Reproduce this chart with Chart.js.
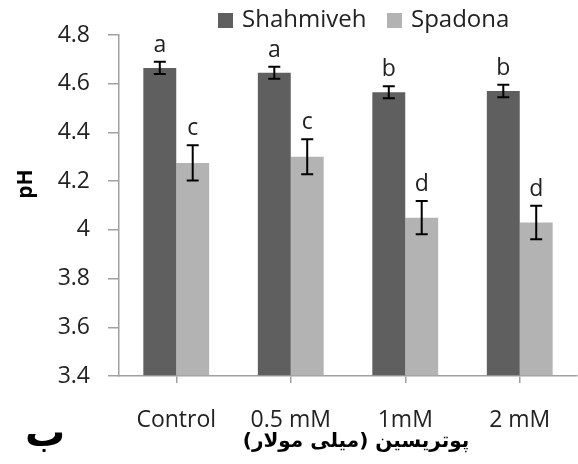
<!DOCTYPE html>
<html>
<head>
<meta charset="utf-8">
<script src="https://cdn.jsdelivr.net/npm/chart.js@4/dist/chart.umd.min.js"></script>
<style>
  html, body { margin: 0; padding: 0; background: #fff; }
  #wrap { width: 578px; height: 464px; }
</style>
</head>
<body>
<div id="wrap"><canvas id="phChart" width="578" height="464"></canvas></div>
<script>
// data
const categories = ["Control", "0.5 mM", "1mM", "2 mM"];
const shahmiveh = [4.665, 4.645, 4.565, 4.57];
const shahmivehErr = [0.025, 0.025, 0.025, 0.026];
const shahmivehLetters = ["a", "a", "b", "b"];
const spadona = [4.275, 4.30, 4.05, 4.03];
const spadonaErr = [0.072, 0.072, 0.068, 0.069];
const spadonaLetters = ["c", "c", "d", "d"];
const yTicks = [3.4, 3.6, 3.8, 4, 4.2, 4.4, 4.6, 4.8];

const DARK = "#5f5f5f";
const LIGHT = "#b3b3b3";
const TEXT = "#222";
const AXIS = "#a0a0a0";
const FONT = "'Open Sans', 'DejaVu Sans', sans-serif";

// error bars + significance letters + legend + side labels
const extras = {
    id: "extras",
    afterDatasetsDraw(chart) {
        const ctx = chart.ctx;
        const y = chart.scales.y;
        const errs = [shahmivehErr, spadonaErr];
        const letters = [shahmivehLetters, spadonaLetters];

        chart.data.datasets.forEach((ds, i) => {
            const meta = chart.getDatasetMeta(i);
            meta.data.forEach((bar, j) => {
                const v = ds.data[j];
                const top = y.getPixelForValue(v + errs[i][j]);
                const bot = y.getPixelForValue(v - errs[i][j]);
                const x = bar.x;
                ctx.save();
                ctx.strokeStyle = "#000";
                ctx.lineWidth = 2;
                ctx.beginPath();
                ctx.moveTo(x, top); ctx.lineTo(x, bot);
                ctx.moveTo(x - 6, top); ctx.lineTo(x + 6, top);
                ctx.moveTo(x - 6, bot); ctx.lineTo(x + 6, bot);
                ctx.stroke();

                ctx.fillStyle = TEXT;
                ctx.font = "23px " + FONT;
                ctx.textAlign = "center";
                ctx.textBaseline = "alphabetic";
                ctx.fillText(letters[i][j], x, top - 10);
                ctx.restore();
            });
        });
    },
    afterDraw(chart) {
        const ctx = chart.ctx;
        ctx.save();

        // legend
        const items = [
            { label: "Shahmiveh", color: DARK, x: 218 },
            { label: "Spadona", color: LIGHT, x: 387 }
        ];
        ctx.font = "24px " + FONT;
        ctx.textBaseline = "middle";
        ctx.textAlign = "left";
        items.forEach(it => {
            ctx.fillStyle = it.color;
            ctx.fillRect(it.x, 13, 15, 15);
            ctx.fillStyle = TEXT;
            ctx.fillText(it.label, it.x + 24, 20);
        });

        // y title
        ctx.save();
        ctx.translate(26, 184);
        ctx.rotate(-Math.PI / 2);
        ctx.font = "bold 21px " + FONT;
        ctx.textAlign = "center";
        ctx.textBaseline = "middle";
        ctx.fillStyle = "#000";
        ctx.fillText("pH", 0, 0);
        ctx.restore();

        // x title
        ctx.font = "bold 20px 'DejaVu Sans', sans-serif";
        ctx.textAlign = "center";
        ctx.textBaseline = "middle";
        ctx.fillStyle = "#000";
        ctx.direction = "rtl";
        ctx.fillText("پوتریسین (میلی مولار)", 356, 442);

        // panel letter
        ctx.font = "bold 40px 'DejaVu Sans', sans-serif";
        ctx.fillText("ب", 45, 436);
        ctx.restore();
    }
};

new Chart(document.getElementById("phChart"), {
    type: "bar",
    data: {
        labels: categories,
        datasets: [
            { label: "Shahmiveh", data: shahmiveh, backgroundColor: DARK, base: 3.4 },
            { label: "Spadona", data: spadona, backgroundColor: LIGHT, base: 3.4 }
        ]
    },
    options: {
        responsive: false,
        animation: false,
        devicePixelRatio: 1,
        layout: { padding: { top: 35, right: 1, left: 0, bottom: 0 } },
        datasets: { bar: { categoryPercentage: 0.575, barPercentage: 1 } },
        plugins: { legend: { display: false }, tooltip: { enabled: false } },
        scales: {
            x: {
                grid: { display: true, drawOnChartArea: false, offset: false, tickLength: 7, color: AXIS, lineWidth: 1.5 },
                border: { color: AXIS, width: 1.5 },
                ticks: { color: TEXT, font: { family: FONT, size: 23 }, padding: 24, maxRotation: 0 },
                afterFit: (s) => { s.height = 88; }
            },
            y: {
                min: 3.4,
                max: 4.8,
                afterBuildTicks: (s) => { s.ticks = yTicks.map(v => ({ value: v })); },
                grid: { drawOnChartArea: false, tickLength: 11, color: AXIS, lineWidth: 1.5 },
                border: { color: AXIS, width: 1.5 },
                ticks: {
                    color: TEXT,
                    font: { family: FONT, size: 23 },
                    padding: 18,
                    callback: (v) => String(Math.round(v * 10) / 10)
                },
                afterFit: (s) => { s.width = 119; }
            }
        }
    },
    plugins: [extras]
});
</script>
</body>
</html>
